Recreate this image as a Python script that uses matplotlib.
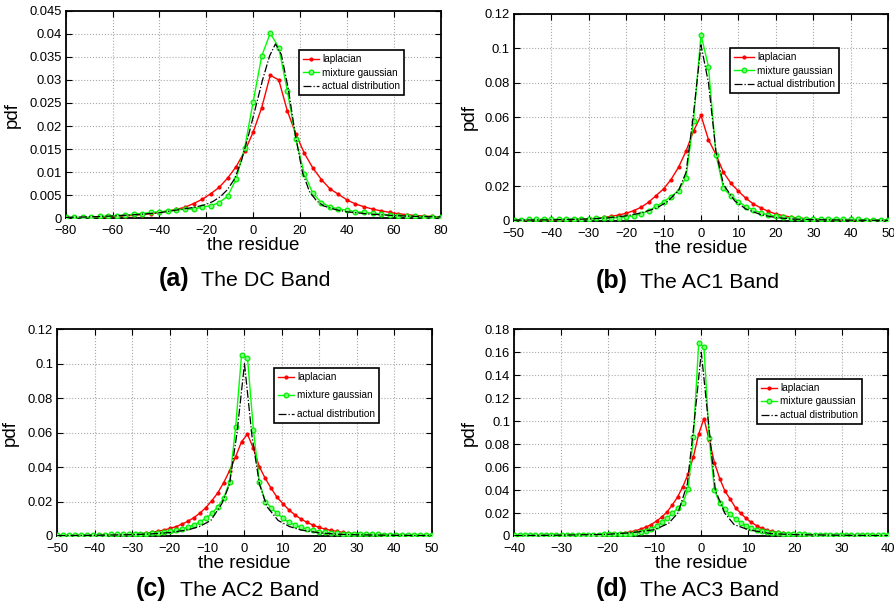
import numpy as np
import matplotlib
matplotlib.use("Agg")
import matplotlib.pyplot as plt

plt.rcParams['font.family'] = ['Liberation Sans', 'DejaVu Sans']

# ---------------- data ----------------
# (a) DC band
xa = np.linspace(-80, 80, 45)
lap_a = [0.0001, 0.00013, 0.00016, 0.0002, 0.00026, 0.00033, 0.0004, 0.0005, 0.00065, 0.0008,
         0.001, 0.0013, 0.0016, 0.00195, 0.0024, 0.0032, 0.0041, 0.0053, 0.0067, 0.0087,
         0.0112, 0.0145, 0.0187, 0.0240, 0.0310, 0.0300, 0.0233, 0.0183, 0.0141, 0.0109,
         0.0084, 0.0064, 0.0052, 0.0040, 0.0031, 0.0025, 0.002, 0.0016, 0.0013, 0.001,
         0.0008, 0.0006, 0.0005, 0.0004, 0.0003]
mix_a = [0.0002, 0.0002, 0.0002, 0.0002, 0.0004, 0.0005, 0.0006, 0.0007, 0.0009, 0.001,
         0.0013, 0.0014, 0.0016, 0.0018, 0.002, 0.002, 0.0024, 0.0027, 0.0034, 0.0048,
         0.0085, 0.0153, 0.0253, 0.0352, 0.0401, 0.0370, 0.0277, 0.0172, 0.0096, 0.0054,
         0.0034, 0.0025, 0.002, 0.0018, 0.0014, 0.0013, 0.0011, 0.0009, 0.0007, 0.0006,
         0.0005, 0.0004, 0.0003, 0.0003, 0.0003]
xa_act = [-80, -70, -60, -50, -40, -35, -30, -25, -20, -17, -14, -11, -8, -5, -2, 1, 4, 7,
          9.5, 12, 15, 18, 21, 24, 27, 30, 35, 40, 50, 60, 70, 80]
act_a = [0.0002, 0.0003, 0.0005, 0.0008, 0.0012, 0.0016, 0.002, 0.0024, 0.003, 0.0037,
         0.0047, 0.0062, 0.0085, 0.0125, 0.018, 0.024, 0.030, 0.0352, 0.0378, 0.0355,
         0.028, 0.018, 0.010, 0.0058, 0.0038, 0.0027, 0.0019, 0.0014, 0.0009, 0.0006,
         0.0004, 0.0003]

# (b) AC1 band
xb = np.linspace(-50, 50, 51)
lap_b = [0.0001, 0.0001, 0.00015, 0.0002, 0.00025, 0.0003, 0.0004, 0.0005, 0.0006, 0.0008,
         0.0011, 0.0014, 0.0019, 0.0025, 0.0033, 0.0043, 0.0058, 0.0078, 0.0107, 0.0146,
         0.0184, 0.0239, 0.031, 0.0404, 0.052, 0.0611,
         0.047, 0.0384, 0.0281, 0.0217, 0.0171, 0.013, 0.0097, 0.0074, 0.0054, 0.0039,
         0.0029, 0.0021, 0.0016, 0.0012, 0.0009, 0.0007, 0.0005, 0.0004, 0.0003, 0.00025,
         0.0002, 0.00015, 0.0001, 0.0001, 0.0001]
mix_b = [0.0006, 0.0006, 0.0007, 0.0007, 0.0008, 0.0008, 0.0009, 0.0009, 0.001, 0.0011,
         0.0012, 0.0013, 0.0014, 0.0016, 0.0018, 0.0022, 0.0029, 0.0039, 0.0058, 0.0083,
         0.011, 0.014, 0.0175, 0.025, 0.058, 0.108,
         0.0893, 0.0384, 0.0188, 0.0142, 0.011, 0.0082, 0.0062, 0.0045, 0.0033, 0.0025,
         0.0019, 0.0016, 0.0013, 0.0012, 0.0011, 0.001, 0.0009, 0.0008, 0.0008, 0.0007,
         0.0007, 0.0006, 0.0006, 0.0006, 0.0005]
xb_act = [-50, -40, -30, -25, -20, -16, -12, -9, -6, -4, -2, 0, 2, 4, 6, 9, 12, 16, 20, 25,
          30, 40, 50]
act_b = [0.0003, 0.0005, 0.001, 0.0016, 0.0028, 0.0045, 0.0072, 0.011, 0.0175, 0.028,
         0.062, 0.102, 0.080, 0.040, 0.021, 0.0115, 0.0068, 0.0035, 0.0018, 0.0009,
         0.0006, 0.0003, 0.0002]

# (c) AC2 band
xc = np.linspace(-50, 50, 64)
lap_c = [0.0001, 0.0001, 0.0001, 0.00012, 0.00015, 0.0002, 0.00025, 0.0003, 0.00035, 0.00045,
         0.00055, 0.0007, 0.0009, 0.0011, 0.0014, 0.0018, 0.0022, 0.0028, 0.0035, 0.0044,
         0.0055, 0.0069, 0.0086, 0.0107, 0.0133, 0.0165, 0.0205, 0.025, 0.031, 0.038,
         0.046, 0.0547,
         0.0591, 0.0508, 0.0402, 0.0334, 0.0276, 0.0224, 0.0186, 0.0151, 0.0122, 0.0099,
         0.0079, 0.0064, 0.005, 0.0041, 0.0033, 0.0027, 0.0021, 0.0017, 0.0014, 0.0011,
         0.0009, 0.0007, 0.0006, 0.0005, 0.0004, 0.0003, 0.00025, 0.0002, 0.00015, 0.00012,
         0.0001, 0.0001]
mix_c = [0.0006, 0.0006, 0.0006, 0.0007, 0.0007, 0.0007, 0.0008, 0.0008, 0.0008, 0.0009,
         0.0009, 0.001, 0.001, 0.0011, 0.0012, 0.0013, 0.0015, 0.0019, 0.0021, 0.0027,
         0.0033, 0.004, 0.0052, 0.0064, 0.0083, 0.0102, 0.0131, 0.017, 0.022, 0.0315,
         0.063, 0.105,
         0.1036, 0.0615, 0.0315, 0.02, 0.0164, 0.0131, 0.0102, 0.0079, 0.0064, 0.005,
         0.004, 0.0033, 0.0025, 0.0021, 0.0018, 0.0015, 0.0013, 0.0012, 0.0011, 0.001,
         0.001, 0.0009, 0.0009, 0.0008, 0.0008, 0.0008, 0.0007, 0.0007, 0.0007, 0.0006,
         0.0006, 0.0006]
xc_act = [-50, -40, -30, -25, -20, -15, -12, -9, -6, -4, -2, 0, 2, 4, 6, 9, 12, 15, 20, 25,
          30, 40, 50]
act_c = [0.0002, 0.0004, 0.0008, 0.0012, 0.002, 0.0036, 0.0055, 0.009, 0.019, 0.030,
         0.060, 0.100, 0.058, 0.030, 0.017, 0.009, 0.0055, 0.0035, 0.0018, 0.001,
         0.0007, 0.0004, 0.0002]

# (d) AC3 band
xd = np.linspace(-40, 40, 72)
lap_d = [0.0001, 0.0001, 0.0001, 0.0001, 0.0001, 0.0001, 0.0001, 0.0001, 0.00012, 0.00015,
         0.0002, 0.00025, 0.0003, 0.0004, 0.0005, 0.0006, 0.0008, 0.001, 0.0013, 0.0016,
         0.0021, 0.0027, 0.0035, 0.0046, 0.006, 0.0078, 0.010, 0.013, 0.0165, 0.021,
         0.027, 0.034, 0.043, 0.054, 0.069, 0.0887,
         0.1023, 0.0835, 0.0638, 0.050, 0.039, 0.032, 0.0246, 0.0197, 0.0154, 0.0119,
         0.009, 0.0067, 0.0052, 0.004, 0.0032, 0.0025, 0.0019, 0.0015, 0.0012, 0.0009,
         0.0007, 0.00055, 0.00045, 0.00035, 0.0003, 0.00025, 0.0002, 0.00015, 0.00012, 0.0001,
         0.0001, 0.0001, 0.0001, 0.0001, 0.0001, 0.0001]
mix_d = [0.0006, 0.0006, 0.0006, 0.0006, 0.0007, 0.0007, 0.0007, 0.0008, 0.0008, 0.0009,
         0.0009, 0.001, 0.001, 0.0011, 0.0011, 0.0012, 0.0013, 0.0014, 0.0015, 0.0016,
         0.0018, 0.0019, 0.0021, 0.0026, 0.0035, 0.0046, 0.0064, 0.0087, 0.0119, 0.0154,
         0.0197, 0.024, 0.029, 0.041, 0.0864, 0.168,
         0.165, 0.085, 0.04, 0.0284, 0.0232, 0.0188, 0.0148, 0.0116, 0.009, 0.007,
         0.0055, 0.0043, 0.0034, 0.0027, 0.0022, 0.0019, 0.0017, 0.0016, 0.0015, 0.0014,
         0.0013, 0.0012, 0.0012, 0.0011, 0.0011, 0.001, 0.001, 0.0009, 0.0009, 0.0008,
         0.0008, 0.0008, 0.0007, 0.0007, 0.0007, 0.0006]
xd_act = [-40, -30, -20, -15, -10, -7, -5, -3, -1.5, 0, 1.5, 3, 5, 7, 10, 15, 20, 30, 40]
act_d = [0.0003, 0.0007, 0.0015, 0.0028, 0.0055, 0.011, 0.02, 0.045, 0.10, 0.16, 0.10,
         0.04, 0.02, 0.01, 0.0055, 0.002, 0.0012, 0.0006, 0.0003]

series_labels = ["laplacian", "mixture gaussian", "actual distribution"]
panel_tags = ["(a)", "(b)", "(c)", "(d)"]
panel_names = ["The DC Band", "The AC1 Band", "The AC2 Band", "The AC3 Band"]
xlims = [(-80, 80), (-50, 50), (-50, 50), (-40, 40)]
xticks = [np.arange(-80, 81, 20), np.arange(-50, 51, 10), np.arange(-50, 51, 10), np.arange(-40, 41, 10)]
ylims = [(0, 0.045), (0, 0.12), (0, 0.12), (0, 0.18)]
yticks = [np.arange(0, 0.0451, 0.005), np.arange(0, 0.121, 0.02), np.arange(0, 0.121, 0.02), np.arange(0, 0.181, 0.02)]
ytick_labels = [["0", "0.005", "0.01", "0.015", "0.02", "0.025", "0.03", "0.035", "0.04", "0.045"],
                ["0", "0.02", "0.04", "0.06", "0.08", "0.1", "0.12"],
                ["0", "0.02", "0.04", "0.06", "0.08", "0.1", "0.12"],
                ["0", "0.02", "0.04", "0.06", "0.08", "0.1", "0.12", "0.14", "0.16", "0.18"]]

data = [(xa, lap_a, mix_a, xa_act, act_a), (xb, lap_b, mix_b, xb_act, act_b),
        (xc, lap_c, mix_c, xc_act, act_c), (xd, lap_d, mix_d, xd_act, act_d)]

W, H = 895, 608
fig = plt.figure(figsize=(W / 100, H / 100), dpi=100)

# axes boxes in pixels: left, top, right, bottom
boxes = [(65.7, 10.7, 440.7, 218.3), (513.7, 14, 888.3, 220.7),
         (57.3, 329.3, 431.7, 536), (514.3, 329.3, 888.3, 536)]
# legend boxes upper-left corner in pixels
leg_pos = [(299, 50), (730, 48), (274, 368), (757, 379)]
leg_handle = [1.6, 2.0, 1.6, 1.6]
leg_space = [0.35, 0.35, 0.85, 0.35]
ylabel_x = [21, 478, 19, 478]
caption_tag_x = [159, 596, 136, 596]
caption_name_x = [201, 640, 180, 640]
caption_y = [286, 288, 596, 596]

for i in range(4):
    l, t, r, b = boxes[i]
    ax = fig.add_axes([l / W, 1 - b / H, (r - l) / W, (b - t) / H])
    x, lap, mix, xact, act = data[i]
    ax.plot(x, lap, color='#ff0000', lw=1.0, marker='.', ms=4, label=series_labels[0], zorder=3)
    ax.plot(x, mix, color='#00ff00', lw=1.0, marker='o', ms=3.4, mfc='#7dff7d', mec='#00ee00',
            mew=0.9, label=series_labels[1], zorder=4)
    ax.plot(xact, act, color='black', lw=0.9, ls='-.', label=series_labels[2], zorder=5)
    ax.set_xlim(*xlims[i])
    ax.set_ylim(*ylims[i])
    ax.set_xticks(xticks[i])
    ax.set_xticklabels([str(v).replace('-', '\u2212') for v in xticks[i]])
    ax.set_yticks(yticks[i])
    ax.set_yticklabels(ytick_labels[i])
    ax.tick_params(direction='in', top=True, right=True, length=4, width=0.8,
                   labelsize=9.4, colors='black')
    ax.tick_params(axis='x', pad=5)
    ax.tick_params(axis='y', pad=3)
    ax.grid(True, ls=':', color='#a8a8a8', lw=0.8)
    for s in ax.spines.values():
        s.set_linewidth(1.3)
    ax.set_xlabel("the residue", fontsize=13.5, labelpad=0)
    ax.set_ylabel("pdf", fontsize=13.5)
    ax.yaxis.set_label_coords((ylabel_x[i] - l) / (r - l), 0.5)
    lx, ly = leg_pos[i]
    leg = ax.legend(loc='upper left', bbox_to_anchor=(lx / W, 1 - ly / H),
                    bbox_transform=fig.transFigure, fontsize=7.2, fancybox=False,
                    framealpha=1, edgecolor='black', borderpad=0.4, labelspacing=leg_space[i],
                    handlelength=leg_handle[i], handletextpad=0.3, borderaxespad=0)
    leg.get_frame().set_linewidth(1.2)
    fig.text(caption_tag_x[i] / W, 1 - caption_y[i] / H, panel_tags[i], fontsize=18,
             fontweight='bold', ha='left', va='baseline')
    fig.text(caption_name_x[i] / W, 1 - caption_y[i] / H, panel_names[i], fontsize=15.4,
             ha='left', va='baseline')

fig.savefig("out.png", dpi=100)
